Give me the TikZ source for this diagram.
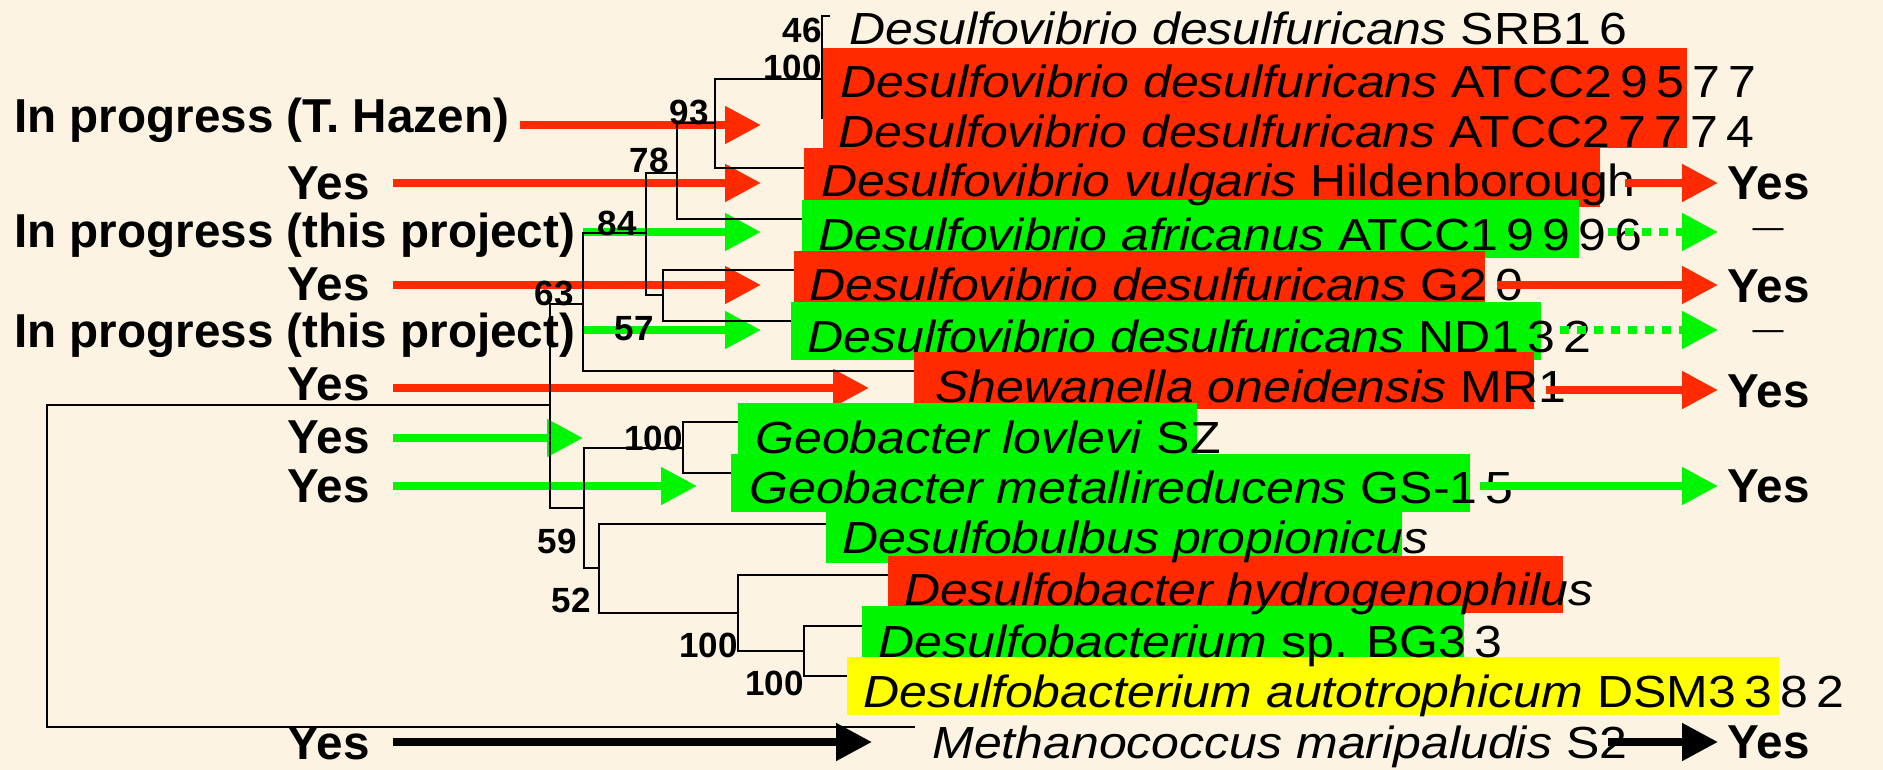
\documentclass[tikz,border=0pt]{standalone}
\usepackage{fontspec}
\setmainfont{Liberation Sans}
\usetikzlibrary{arrows.meta}
\definecolor{bgc}{RGB}{252,243,226}
\definecolor{rd}{RGB}{255,42,0}
\definecolor{gn}{RGB}{0,245,0}
\definecolor{yl}{RGB}{255,255,0}
\begin{document}
\begin{tikzpicture}[x=0.5pt,y=-0.5pt,
  sp/.style={anchor=base west, inner sep=0pt, font=\fontsize{25}{30}\selectfont},
  lab/.style={anchor=base west, inner sep=0pt, font=\fontsize{23.8}{28}\selectfont\bfseries},
  bs/.style={anchor=base east, inner sep=0pt, font=\fontsize{17.5}{20}\selectfont\bfseries},
  br/.style={line width=1pt, line cap=rect},
  arr/.style={line width=4pt, -{Triangle[length=18pt,width=18pt]}},
  dotarr/.style={arr, dash pattern=on 4.5pt off 4pt},
  dsh/.style={anchor=mid, inner sep=0pt, font=\fontsize{15.5}{18}\selectfont}
]
\useasboundingbox (0,0) rectangle (1883,770);
\fill[bgc] (0,0) rectangle (1883,770);

% left labels
\node[lab] (l1) at (14,133) {In progress (T. Hazen)};
\node[lab] (l2) at (287,200) {Yes};
\node[lab] (l3) at (14,248) {In progress (this project)};
\node[lab] (l4) at (287,300) {Yes};
\node[lab] (l5) at (14,347) {In progress (this project)};
\node[lab] (l6) at (287,400) {Yes};
\node[lab] (l7) at (287,453) {Yes};
\node[lab] (l8) at (287,502) {Yes};
\node[lab] (l9) at (287,759) {Yes};

% left arrows
\coordinate (a1s) at (520,125); \coordinate (a1e) at (761,125);
\coordinate (a2s) at (393,183); \coordinate (a2e) at (761,183);
\coordinate (a3s) at (583,232); \coordinate (a3e) at (761,232);
\coordinate (a4s) at (393,285); \coordinate (a4e) at (761,285);
\coordinate (a5s) at (583,330); \coordinate (a5e) at (761,330);
\coordinate (a6s) at (393,388); \coordinate (a6e) at (869,388);
\coordinate (a7s) at (393,438); \coordinate (a7e) at (583,438);
\coordinate (a8s) at (393,486); \coordinate (a8e) at (697,486);
\coordinate (a9s) at (393,742); \coordinate (a9e) at (872,742);
\draw[arr,rd] (a1s) -- (a1e);
\draw[arr,rd] (a2s) -- (a2e);
\draw[arr,gn] (a3s) -- (a3e);
\draw[arr,rd] (a4s) -- (a4e);
\draw[arr,gn] (a5s) -- (a5e);
\draw[arr,rd] (a6s) -- (a6e);
\draw[arr,gn] (a7s) -- (a7e);
\draw[arr,gn] (a8s) -- (a8e);
\draw[arr,black] (a9s) -- (a9e);

% tree
\draw[br] (829,16) -- (822,16) -- (822,118);
\draw[br] (822,79) -- (715,79) -- (715,168) -- (804,168);
\draw[br] (715,123) -- (677,123) -- (677,219) -- (802,219);
\draw[br] (677,173) -- (646,173) -- (646,295) -- (663,295);
\draw[br] (794,270) -- (663,270) -- (663,321) -- (791,321);
\draw[br] (646,233) -- (583,233) -- (583,371) -- (914,371);
\draw[br] (583,304) -- (550,304) -- (550,508) -- (584,508);
\draw[br] (550,405) -- (47,405) -- (47,727) -- (914,727);
\draw[br] (683,448) -- (584,448) -- (584,568) -- (599,568);
\draw[br] (738,422) -- (683,422) -- (683,473) -- (731,473);
\draw[br] (826,524) -- (599,524) -- (599,613) -- (738,613);
\draw[br] (888,575) -- (738,575) -- (738,651) -- (804,651);
\draw[br] (862,626) -- (804,626) -- (804,676) -- (847,676);

% bootstrap values
\node[bs] (b46) at (822,43) {46};
\node[bs] (b100a) at (822,80) {100};
\node[bs] (b93) at (709,125) {93};
\node[bs] (b78) at (669,173) {78};
\node[bs] (b84) at (637,235) {84};
\node[bs] (b63) at (574,305) {63};
\node[bs] (b57) at (654,340) {57};
\node[bs] (b100b) at (683,450) {100};
\node[bs] (b59) at (577,553) {59};
\node[bs] (b52) at (591,612) {52};
\node[bs] (b100c) at (738,657) {100};
\node[bs] (b100d) at (804,695) {100};

% boxes
\fill[rd] (823,48) rectangle (1687,148);
\fill[rd] (804,148) rectangle (1600,207);
\fill[gn] (802,200) rectangle (1579,258);
\fill[rd] (794,251) rectangle (1485,302);
\fill[gn] (791,302) rectangle (1541,360);
\fill[rd] (914,352) rectangle (1534,409);
\fill[gn] (738,403) rectangle (1197,454);
\fill[gn] (731,454) rectangle (1470,512);
\fill[gn] (826,512) rectangle (1402,563);
\fill[rd] (888,556) rectangle (1563,613);
\fill[gn] (862,606) rectangle (1464,664);
\fill[yl] (847,657) rectangle (1779,715);

% species
\node[sp] (s1) at (849,45) {\scalebox{1}[0.9]{\textit{Desulfovibrio desulfuricans} SRB1\,6}};
\node[sp] (s2) at (840,98) {\scalebox{1}[0.9]{\textit{Desulfovibrio desulfuricans} ATCC2\,9\,5\,7\,7}};
\node[sp] (s3) at (838,148) {\scalebox{1}[0.9]{\textit{Desulfovibrio desulfuricans} ATCC2\,7\,7\,7\,4}};
\node[sp] (s4) at (821,197) {\scalebox{1}[0.9]{\textit{Desulfovibrio vulgaris} Hildenborough}};
\node[sp] (s5) at (818,250) {\scalebox{1}[0.9]{\textit{Desulfovibrio africanus} ATCC1\,9\,9\,9\,6}};
\node[sp] (s6) at (809,300) {\scalebox{1}[0.9]{\textit{Desulfovibrio desulfuricans} G2\,0}};
\node[sp] (s7) at (807,352) {\scalebox{1}[0.9]{\textit{Desulfovibrio desulfuricans} ND1\,3\,2}};
\node[sp] (s8) at (935,402) {\scalebox{1}[0.9]{\textit{Shewanella oneidensis} MR1}};
\node[sp] (s9) at (755,453) {\scalebox{1}[0.9]{\textit{Geobacter lovlevi} SZ}};
\node[sp] (s10) at (749,503) {\scalebox{1}[0.9]{\textit{Geobacter metallireducens} GS-1\,5}};
\node[sp] (s11) at (842,553) {\scalebox{1}[0.9]{\textit{Desulfobulbus propionicus}}};
\node[sp] (s12) at (904,605) {\scalebox{1}[0.9]{\textit{Desulfobacter hydrogenophilus}}};
\node[sp] (s13) at (878,657) {\scalebox{1}[0.9]{\textit{Desulfobacterium} sp. BG3\,3}};
\node[sp] (s14) at (863,707) {\scalebox{1}[0.9]{\textit{Desulfobacterium autotrophicum} DSM3\,3\,8\,2}};
\node[sp] (s15) at (932,758) {\scalebox{1}[0.9]{\textit{Methanococcus maripaludis} S2}};

% right arrows
\coordinate (r4s) at (1625,183); \coordinate (r4e) at (1718,183);
\coordinate (r5s) at (1608,232); \coordinate (r5e) at (1718,232);
\coordinate (r6s) at (1497,285); \coordinate (r6e) at (1718,285);
\coordinate (r7s) at (1560,330); \coordinate (r7e) at (1718,330);
\coordinate (r8s) at (1546,390); \coordinate (r8e) at (1718,390);
\coordinate (r10s) at (1480,486); \coordinate (r10e) at (1718,486);
\coordinate (r15s) at (1608,742); \coordinate (r15e) at (1718,742);
\draw[arr,rd] (r4s) -- (r4e);
\draw[dotarr,gn] (r5s) -- (r5e);
\draw[arr,rd] (r6s) -- (r6e);
\draw[dotarr,gn] (r7s) -- (r7e);
\draw[arr,rd] (r8s) -- (r8e);
\draw[arr,gn] (r10s) -- (r10e);
\draw[arr,black] (r15s) -- (r15e);

% right labels
\node[lab] (y4) at (1727,200) {Yes};
\node[dsh] (d5) at (1768,232) {—};
\node[lab] (y6) at (1727,302) {Yes};
\node[dsh] (d7) at (1768,334) {—};
\node[lab] (y8) at (1727,407) {Yes};
\node[lab] (y10) at (1727,502) {Yes};
\node[lab] (y15) at (1727,758) {Yes};
\end{tikzpicture}
\end{document}
